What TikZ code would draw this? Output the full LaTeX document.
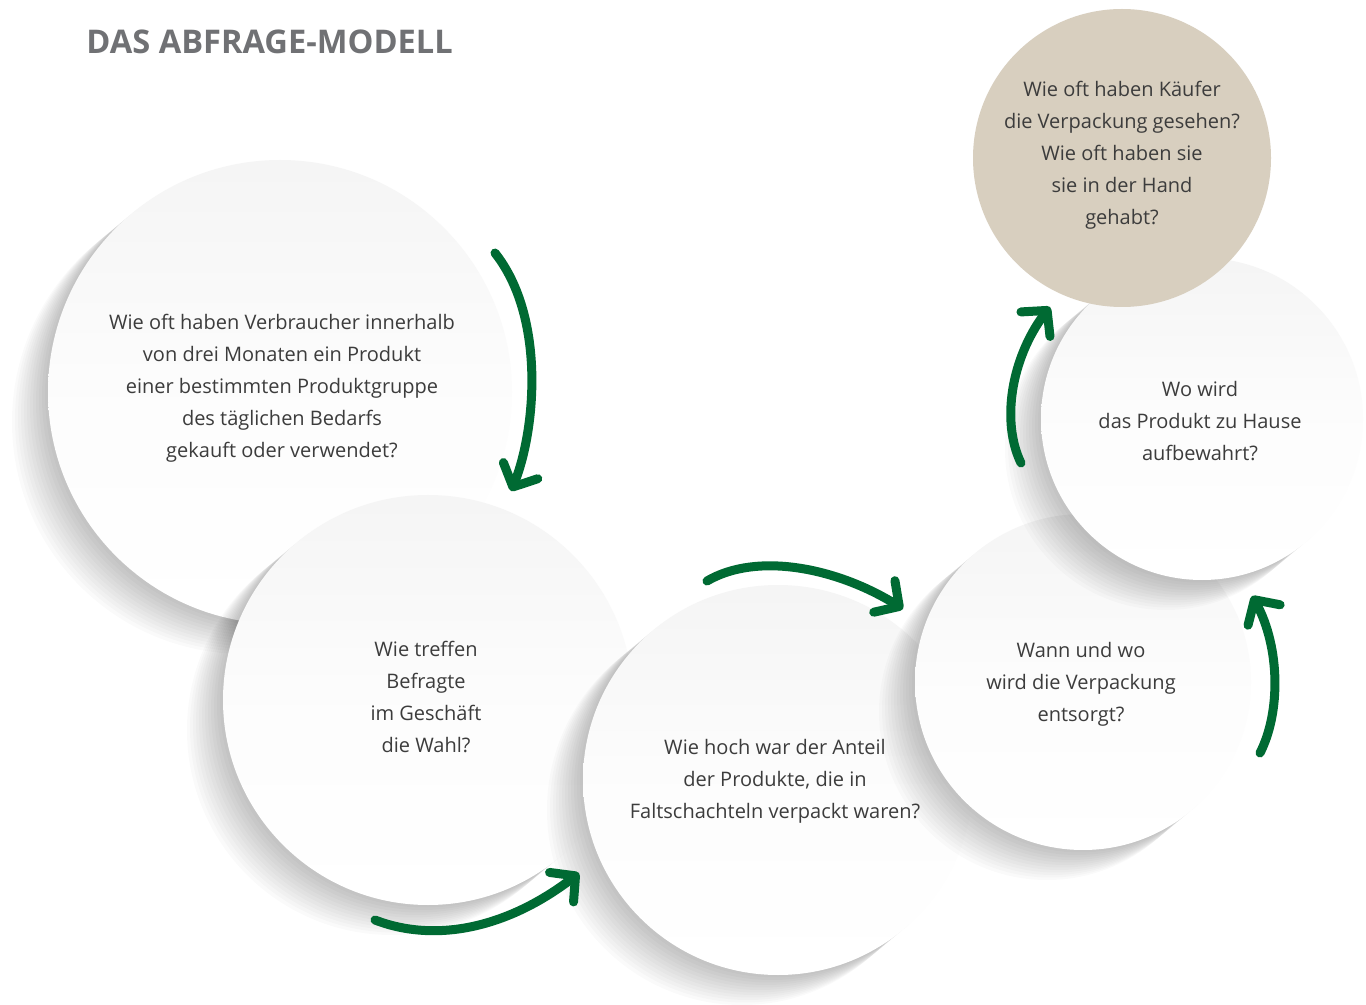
\documentclass[tikz,border=0pt]{standalone}
\usepackage{fontspec}
\setmainfont{Open Sans}
\usetikzlibrary{arrows.meta,calc,bending}
\definecolor{arrowgreen}{RGB}{0,106,51}
\definecolor{beige}{RGB}{216,207,191}
\definecolor{txt}{RGB}{60,60,60}
\definecolor{titlegray}{RGB}{112,113,116}
\newcommand\bubbleshadow[3]{\foreach \k in {1,...,12}{\fill[black,opacity=0.019] (#1-3*\k,#2+2.5*\k) circle (#3);}}
\begin{document}
\begin{tikzpicture}[x=0.5pt,y=-0.5pt,
  bubble/.style={circle, inner sep=0pt, top color=black!4, bottom color=white, middle color=white!99!black},
  qtext/.style={align=center, text=txt, inner sep=0pt, font=\fontsize{10}{16}\selectfont},
  flow/.style={draw=arrowgreen, line width=4.5pt, line cap=round,
     -{Straight Barb[length=9pt,width=19pt,line cap=round,line join=round]}},
]
\useasboundingbox (0,0) rectangle (1366,1005);
\fill[white] (0,0) rectangle (1366,1005);

\node[anchor=base west, font=\bfseries\fontsize{16.3}{20}\selectfont, text=titlegray, inner sep=0pt] (title) at (86,54) {DAS ABFRAGE-MODELL};

% bubbles
\bubbleshadow{280}{392}{232}
\node[bubble, minimum size=232pt] (c1) at (280,392) {};
\bubbleshadow{428}{700}{205}
\node[bubble, minimum size=205pt] (c2) at (428,700) {};
\bubbleshadow{778}{780}{195}
\node[bubble, minimum size=195pt] (c3) at (778,780) {};
\bubbleshadow{1083}{682}{168}
\node[bubble, minimum size=168pt] (c4) at (1083,682) {};
\bubbleshadow{1202}{419}{161}
\node[bubble, minimum size=161pt] (c5) at (1202,419) {};
\node[circle, inner sep=0pt, fill=beige, minimum size=149pt] (c6) at (1122,158) {};

% texts
\node[qtext] (t1) at (282,388) {Wie oft haben Verbraucher innerhalb\\von drei Monaten ein Produkt\\einer bestimmten Produktgruppe\\des täglichen Bedarfs\\gekauft oder verwendet?};
\node[qtext] (t2) at (426,697) {Wie treffen\\Befragte\\im Geschäft\\die Wahl?};
\node[qtext] (t3) at (775,781) {Wie hoch war der Anteil\\der Produkte, die in\\Faltschachteln verpackt waren?};
\node[qtext] (t4) at (1081,684) {Wann und wo\\wird die Verpackung\\entsorgt?};
\node[qtext] (t5) at (1200,421) {Wo wird\\das Produkt zu Hause\\aufbewahrt?};
\node[qtext] (t6) at (1122,155) {Wie oft haben Käufer\\die Verpackung gesehen?\\Wie oft haben sie\\sie in der Hand\\gehabt?};

% arrows
\coordinate (a1s) at (495,253); \coordinate (a1e) at (511,491);
\draw[flow] (a1s) .. controls (548,320) and (535,440) .. (a1e);
\coordinate (a2s) at (375,920); \coordinate (a2e) at (579,873);
\draw[flow] (a2s) .. controls (440,945) and (515,925) .. (a2e);
\coordinate (a3s) at (707,581); \coordinate (a3e) at (903,609);
\draw[flow] (a3s) .. controls (760,550) and (845,570) .. (a3e);
\coordinate (a4s) at (1260,753); \coordinate (a4e) at (1252,596);
\draw[flow] (a4s) .. controls (1282,710) and (1280,640) .. (a4e);
\coordinate (a5s) at (1021,463); \coordinate (a5e) at (1050,307);
\draw[flow] (a5s) .. controls (1000,420) and (1012,352) .. (a5e);
\end{tikzpicture}
\end{document}
